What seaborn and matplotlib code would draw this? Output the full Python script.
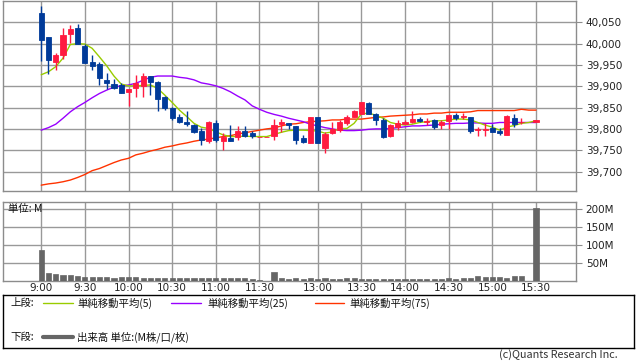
# Intraday 5-minute candlestick chart with moving averages and volume panel.

import numpy as np
import pandas as pd
import matplotlib
matplotlib.use("Agg")
import matplotlib.pyplot as plt
import seaborn as sns

# ---- data (one slot per 5-minute bar) ----
slots = list(range(69))
tick_slots = [0, 6, 12, 18, 24, 30, 38, 44, 50, 56, 62, 68]
tick_labels = ['9:00', '9:30', '10:00', '10:30', '11:00', '11:30',
               '13:00', '13:30', '14:00', '14:30', '15:00', '15:30']
price_ticks = [39700, 39750, 39800, 39850, 39900, 39950, 40000, 40050]
vol_ticks = [50, 100, 150, 200]

nan = np.nan
opens = [40072, 40016, 39958, 39973, 40023, 40037, 39995, 39957, 39952, 39915,
         39905, 39902, 39887, 39895, 39900, 39924, 39910, 39875, 39849, 39828,
         39815, 39808, 39796, 39772, 39814, 39772, 39778, 39780, 39796, 39791,
         39781, 39781, 39783, 39811, 39813, 39807, 39779, 39768, 39827, 39756,
         39790, 39797, 39813, 39829, 39835, 39861, 39836, 39821, 39784, 39805,
         39811, 39817, 39823, 39817, 39821, 39809, 39819, 39833, 39828, 39827,
         39797, 39798, 39801, 39796, 39786, 39826, 39815, nan, 39815]
highs = [40089, 40016, 39979, 40037, 40044, 40046, 40000, 39973, 39958, 39931,
         39917, 39907, 39894, 39926, 39930, 39924, 39912, 39876, 39852, 39834,
         39842, 39811, 39801, 39818, 39820, 39790, 39809, 39807, 39807, 39796,
         39781, 39781, 39823, 39824, 39814, 39807, 39786, 39827, 39827, 39793,
         39817, 39821, 39832, 39844, 39863, 39864, 39838, 39825, 39811, 39821,
         39822, 39842, 39829, 39826, 39824, 39822, 39833, 39838, 39838, 39828,
         39805, 39813, 39811, 39803, 39833, 39834, 39825, nan, 39820]
lows = [39959, 39929, 39938, 39964, 40001, 40000, 39955, 39938, 39904, 39894,
        39894, 39885, 39854, 39875, 39875, 39880, 39843, 39844, 39821, 39814,
        39807, 39790, 39762, 39767, 39769, 39750, 39772, 39774, 39781, 39779,
        39781, 39781, 39774, 39793, 39800, 39764, 39768, 39767, 39767, 39744,
        39789, 39792, 39809, 39828, 39834, 39834, 39809, 39779, 39780, 39798,
        39811, 39813, 39817, 39809, 39800, 39800, 39800, 39820, 39823, 39791,
        39784, 39784, 39792, 39786, 39785, 39804, 39811, nan, 39815]
closes = [40009, 39962, 39973, 40020, 40034, 40000, 39955, 39948, 39920, 39908,
          39896, 39885, 39894, 39907, 39925, 39910, 39870, 39850, 39826, 39815,
          39811, 39793, 39775, 39815, 39774, 39780, 39772, 39796, 39783, 39783,
          39781, 39781, 39809, 39815, 39809, 39774, 39770, 39827, 39768, 39788,
          39799, 39815, 39829, 39842, 39862, 39836, 39820, 39782, 39808, 39814,
          39816, 39823, 39819, 39818, 39805, 39815, 39833, 39826, 39830, 39796,
          39799, 39800, 39792, 39790, 39830, 39812, 39816, nan, 39820]

sma5 = [39927, 39934, 39946, 39966, 39998, 40000, 39999, 39989, 39969, 39948,
        39924, 39905, 39901, 39901, 39902, 39903, 39895, 39879, 39862, 39844,
        39829, 39813, 39804, 39801, 39793, 39786, 39782, 39782, 39783, 39782,
        39782, 39782, 39787, 39792, 39796, 39797, 39797, 39796, 39795, 39790,
        39793, 39801, 39801, 39813, 39835, 39837, 39832, 39825, 39815, 39811,
        39809, 39811, 39815, 39817, 39819, 39819, 39821, 39823, 39823, 39821,
        39815, 39809, 39804, 39797, 39804, 39808, 39813, 39815, 39819]
sma25 = [39797, 39803, 39811, 39825, 39840, 39852, 39862, 39873, 39883, 39891,
         39898, 39901, 39903, 39907, 39914, 39921, 39924, 39924, 39924, 39921,
         39919, 39915, 39908, 39905, 39901, 39895, 39887, 39877, 39868, 39854,
         39846, 39839, 39834, 39830, 39825, 39821, 39817, 39811, 39807, 39803,
         39800, 39797, 39796, 39796, 39797, 39799, 39800, 39800, 39801, 39803,
         39805, 39807, 39807, 39808, 39809, 39811, 39812, 39813, 39813, 39814,
         39814, 39813, 39813, 39815, 39815, 39815, 39815, 39815, 39815]
sma75 = [39668, 39671, 39673, 39676, 39680, 39686, 39693, 39702, 39707, 39714,
         39721, 39727, 39731, 39739, 39743, 39748, 39752, 39757, 39760, 39764,
         39767, 39771, 39774, 39776, 39779, 39782, 39784, 39788, 39791, 39794,
         39797, 39800, 39802, 39807, 39811, 39812, 39815, 39817, 39818, 39819,
         39821, 39821, 39823, 39823, 39823, 39825, 39827, 39828, 39830, 39831,
         39832, 39833, 39835, 39835, 39837, 39837, 39839, 39839, 39839, 39840,
         39843, 39843, 39843, 39843, 39843, 39843, 39846, 39844, 39844]

# volume in millions
volume = [86.6, 22, 19.6, 16.8, 15, 12, 11, 11, 11, 9.3,
          8.4, 10, 11, 10, 8.4, 8.4, 8.4, 7, 6.5, 6.5,
          6.5, 7, 6.5, 6.5, 6.5, 6.5, 6.5, 6.5, 6.5, 6,
          1, nan, 25, 8, 6, 7, 5, 8, 6, 8,
          6, 4, 7, 8, 6, 6, 6, 6, 4, 4,
          6, 6, 4, 6, 4, 6, 8, 6, 8, 8,
          14, 11, 11, 11, 8, 14, 14, nan, 203]

UP = '#ff1a40'
DOWN = '#003a99'
GRID = '#999999'
FRAME = '#8c8c8c'
JP = ['Noto Sans CJK JP', 'DejaVu Sans']

W, H = 638, 362
sns.set_theme(style='white')
plt.rcParams['font.family'] = ['DejaVu Sans', 'Noto Sans CJK JP']

fig = plt.figure(figsize=(W / 100, H / 100), dpi=100)


def px_axes(left, top, right, bottom):
    # axes placed by pixel box of the reference image
    return fig.add_axes([left / W, 1 - bottom / H, (right - left) / W, (bottom - top) / H])


def style_panel(ax):
    for s in ax.spines.values():
        s.set_color(FRAME)
        s.set_linewidth(1.0)
    ax.set_xticks(tick_slots)
    ax.grid(True, color=GRID, linewidth=1.0)
    ax.set_axisbelow(True)
    ax.yaxis.tick_right()
    ax.tick_params(axis='y', direction='out', length=4, width=0.8, color=FRAME,
                   labelsize=7.5, labelcolor='#222222', pad=3)
    ax.set_xlim(-5.25, 73.5)
    ax.set_xlabel('')
    ax.set_ylabel('')


# ---- price panel ----
ax = px_axes(3, 1, 576, 190.7)
df = pd.DataFrame({'slot': slots, 'open': opens, 'high': highs, 'low': lows,
                   'close': closes, 'sma5': sma5, 'sma25': sma25, 'sma75': sma75})

for col, color in [('sma75', '#ff3300'), ('sma25', '#9900ff'), ('sma5', '#99cc00')]:
    sns.lineplot(data=df, x='slot', y=col, ax=ax, color=color, linewidth=1.0, zorder=2)

bars = df.dropna(subset=['open'])
colors = [UP if c >= o else DOWN for o, c in zip(bars['open'], bars['close'])]
ax.vlines(bars['slot'], bars['low'], bars['high'], colors=colors, linewidth=1.0, zorder=3)
body_lo = np.minimum(bars['open'], bars['close'])
body_h = np.maximum(np.abs(bars['close'] - bars['open']), 0.8)
ax.bar(bars['slot'], body_h, bottom=body_lo, width=0.7, color=colors,
       edgecolor=colors, linewidth=0.6, zorder=4)

style_panel(ax)
ax.set_ylim(39655, 40100)
ax.set_yticks(price_ticks)
ax.set_yticklabels([f'{v:,}' for v in price_ticks])
ax.tick_params(axis='x', length=0, labelbottom=False)

# ---- volume panel ----
axv = px_axes(3, 201.7, 576, 280.7)
vdf = pd.DataFrame({'slot': slots, 'volume': volume}).dropna()
sns.barplot(data=vdf, x='slot', y='volume', native_scale=True, color='#666666',
            saturation=1, width=0.7, errorbar=None, ax=axv, zorder=3,
            edgecolor='#666666', linewidth=0.5)
style_panel(axv)
axv.set_ylim(0, 221)
axv.set_yticks(vol_ticks)
axv.set_yticklabels([f'{v}M' for v in vol_ticks])
axv.set_xticklabels(tick_labels)
axv.tick_params(axis='x', length=0, labelsize=7.5, labelcolor='#222222', pad=2)
axv.text(5 / 573, 1 - 7 / 79, '単位: M', transform=axv.transAxes, family=JP,
         fontsize=7.5, color='#111111', va='center', ha='left')

# ---- legend box ----
axl = px_axes(3, 295, 634, 348)
axl.set_xlim(3, 634)
axl.set_ylim(348, 295)
axl.set_xticks([])
axl.set_yticks([])
for s in axl.spines.values():
    s.set_color('black')
    s.set_linewidth(1.0)
axl.set_facecolor('white')

row1, row2 = 303, 337
txt = dict(family=JP, fontsize=7.5, color='#111111', va='center', ha='left')
axl.text(10, row1, '上段:', **txt)
for x0, x1, tx, color, label in [(43, 73, 77, '#99cc00', '単純移動平均(5)'),
                                  (171, 201, 207, '#9900ff', '単純移動平均(25)'),
                                  (315, 344, 349, '#ff3300', '単純移動平均(75)')]:
    axl.plot([x0, x1], [row1, row1], color=color, linewidth=1.0)
    axl.text(tx, row1, label, **txt)
axl.text(10, row2, '下段:', **txt)
axl.plot([43, 73], [row2, row2], color='#666666', linewidth=3.0)
axl.text(77, row2, '出来高 単位:(M株/口/枚)', **txt)

fig.text(618 / W, 1 - 355 / H, '(c)Quants Research Inc.', family=JP, fontsize=7.8,
         color='#333333', ha='right', va='center')

fig.savefig('out.png', dpi=100)
plt.close(fig)
